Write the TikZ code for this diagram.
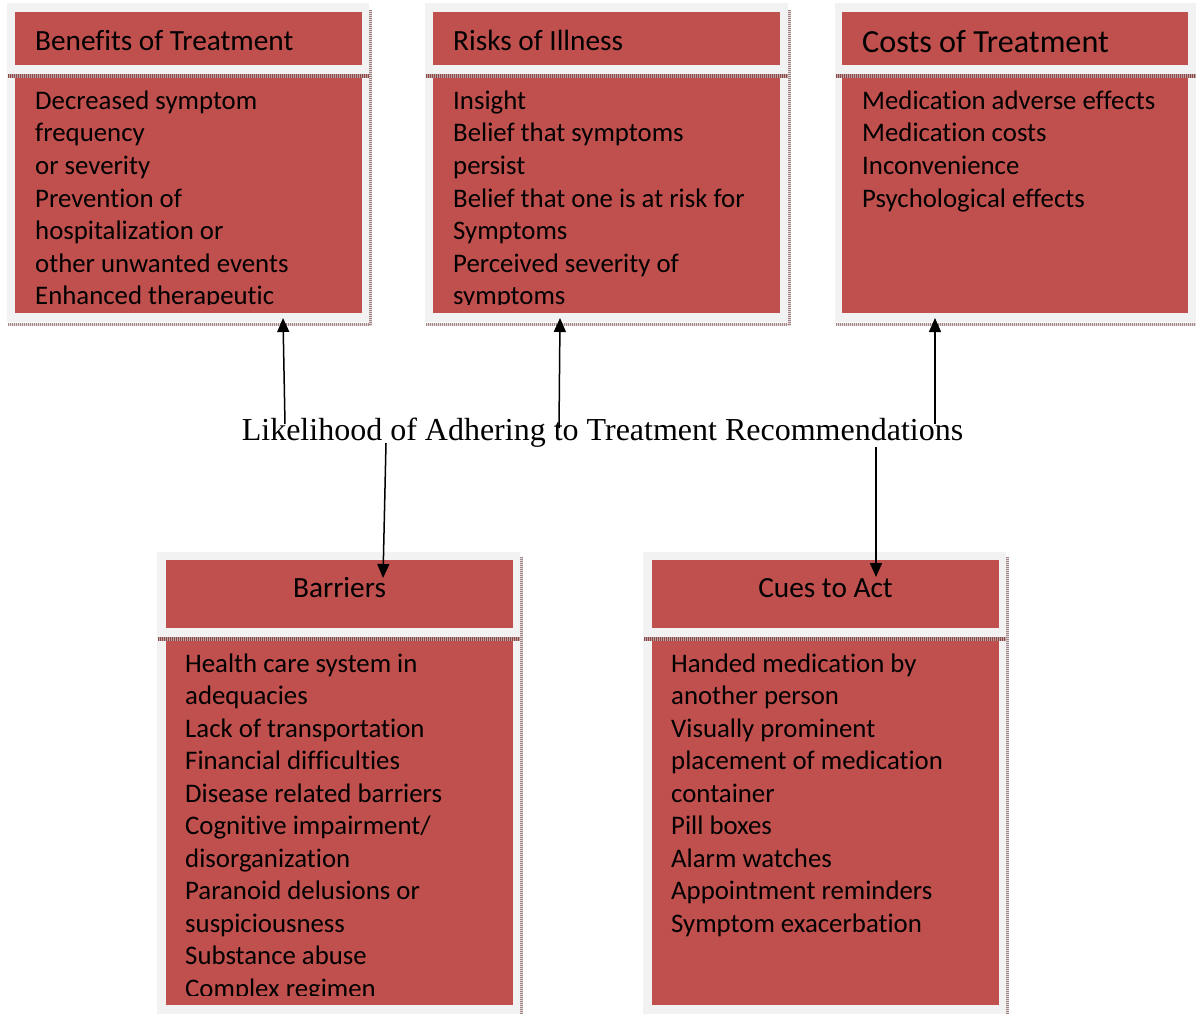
\documentclass[tikz,border=0pt]{standalone}
\usepackage{fontspec}
\setmainfont{Carlito}[RawFeature={-liga}]
\newfontfamily\tnr{Liberation Serif}
\usetikzlibrary{arrows.meta}
\definecolor{boxred}{HTML}{C0504D}
\definecolor{panelgray}{HTML}{F2F2F2}
\definecolor{sepdark}{HTML}{8A4848}
\definecolor{sepbase}{HTML}{BFA3A3}
\definecolor{shdark}{HTML}{A08888}
\definecolor{shbase}{HTML}{E2D6D6}
\tikzset{
  x=1pt, y=-1pt,
  panel/.style={fill=panelgray, draw=none},
  redbox/.style={fill=boxred, draw=none},
  sepbaseline/.style={line width=4pt, draw=sepbase},
  sepdotline/.style={line width=4pt, draw=sepdark, dash pattern=on 1pt off 1pt},
  shbaseline/.style={line width=3pt, draw=shbase},
  shdotline/.style={line width=3pt, draw=shdark, dash pattern=on 1pt off 1pt},
  bodytxt/.style={inner sep=0pt, anchor=base west, font=\fontsize{26.8}{32.5}\selectfont},
  headtxt/.style={inner sep=0pt, font=\fontsize{29.3}{34}\selectfont},
  bighead/.style={inner sep=0pt, font=\fontsize{32.2}{37}\selectfont},
  lowhead/.style={inner sep=0pt, anchor=base, font=\fontsize{29.3}{34}\selectfont},
  arr/.style={line width=1.5pt, -{Triangle[width=12pt,length=14pt]}},
}
\newcommand{\sepline}[3]{% x0 x1 y
  \draw[sepbaseline] (#1,#3) -- (#2,#3);
  \draw[sepdotline] (#1,#3) -- (#2,#3);}
\newcommand{\hshadow}[3]{% x0 x1 y
  \draw[shbaseline] (#1,#3) -- (#2,#3);
  \draw[shdotline] (#1,#3) -- (#2,#3);}
\newcommand{\vshadow}[3]{% x y0 y1
  \draw[shbaseline] (#1,#2) -- (#1,#3);
  \draw[shdotline] (#1,#2) -- (#1,#3);}
\begin{document}
\begin{tikzpicture}
\useasboundingbox[fill=white] (0,0) rectangle (1196,1014);

% ---------- Benefits of Treatment ----------
\path[panel] (7,3) rectangle (369,322);
\path[redbox] (15,12) rectangle (362,65);
\path[redbox] (15,78) rectangle (362,313);
\sepline{8}{372}{76}
\hshadow{8}{372}{324}
\vshadow{370.5}{10}{325.5}
\node[headtxt, anchor=base west] (hA) at (35,50.5) {Benefits of Treatment};
\begin{scope}
  \clip (15,78) rectangle (362,304);
  \foreach \t [count=\i from 0] in {Decreased symptom, frequency, or severity, Prevention of, hospitalization or, other unwanted events, Enhanced therapeutic}
    \node[bodytxt] (A\i) at (35,{109.5+32.5*\i}) {\t};
\end{scope}

% ---------- Risks of Illness ----------
\path[panel] (425,3) rectangle (788,322);
\path[redbox] (433,12) rectangle (780,65);
\path[redbox] (433,78) rectangle (780,313);
\sepline{426}{790}{76}
\hshadow{426}{790}{324}
\vshadow{789}{10}{325.5}
\node[headtxt, anchor=base west] (hB) at (453,50.5) {Risks of Illness};
\begin{scope}
  \clip (433,78) rectangle (780,304);
  \foreach \t [count=\i from 0] in {Insight, Belief that symptoms, persist, Belief that one is at risk for, Symptoms, Perceived severity of, symptoms}
    \node[bodytxt] (B\i) at (453,{109.5+32.5*\i}) {\t};
\end{scope}

% ---------- Costs of Treatment ----------
\path[panel] (835,3) rectangle (1196,322);
\path[redbox] (842,12) rectangle (1188,65);
\path[redbox] (842,78) rectangle (1188,313);
\sepline{836}{1196}{76}
\hshadow{836}{1196}{324}
\node[bighead, anchor=base west] (hC) at (862,53) {Costs of Treatment};
\foreach \t [count=\i from 0] in {Medication adverse effects, Medication costs, Inconvenience, Psychological effects}
  \node[bodytxt] (C\i) at (862,{109.5+32.5*\i}) {\t};

% ---------- Barriers ----------
\path[panel] (157,552) rectangle (520,1014);
\path[redbox] (166,560) rectangle (513,628);
\path[redbox] (166,641) rectangle (513,1005);
\sepline{158}{522}{639}
\vshadow{521.5}{557}{1014}
\node[lowhead] (hD) at (339.5,597) {Barriers};
\begin{scope}
  \clip (166,641) rectangle (513,995);
  \foreach \t [count=\i from 0] in {Health care system in, adequacies, Lack of transportation, Financial difficulties, Disease related barriers, Cognitive impairment/, disorganization, Paranoid delusions or, suspiciousness, Substance abuse, Complex regimen}
    \node[bodytxt] (D\i) at (185,{672+32.5*\i}) {\t};
\end{scope}

% ---------- Cues to Act ----------
\path[panel] (643,552) rectangle (1006,1014);
\path[redbox] (652,560) rectangle (999,628);
\path[redbox] (652,641) rectangle (999,1005);
\sepline{644}{1008}{639}
\vshadow{1007.5}{557}{1014}
\node[lowhead] (hE) at (825.5,597) {Cues to Act};
\foreach \t [count=\i from 0] in {Handed medication by, another person, Visually prominent, placement of medication, container, Pill boxes, Alarm watches, Appointment reminders, Symptom exacerbation}
  \node[bodytxt] (E\i) at (671,{672+32.5*\i}) {\t};

% ---------- central label ----------
\node[inner sep=0pt, anchor=base, font=\tnr\fontsize{32}{38}\selectfont] (lik) at (602.5,440) {Likelihood of Adhering to Treatment Recommendations};

% ---------- arrows ----------
\coordinate (s1) at (285,424);  \coordinate (t1) at (283,318);
\coordinate (s2) at (559,428);  \coordinate (t2) at (560,318);
\coordinate (s3) at (935,424);  \coordinate (t3) at (935,318);
\coordinate (s4) at (386,443);  \coordinate (t4) at (383,578);
\coordinate (s5) at (876,447);  \coordinate (t5) at (876,577);
\draw[arr] (s1) -- (t1);
\draw[arr] (s2) -- (t2);
\draw[arr] (s3) -- (t3);
\draw[arr] (s4) -- (t4);
\draw[arr] (s5) -- (t5);
\end{tikzpicture}
\end{document}
